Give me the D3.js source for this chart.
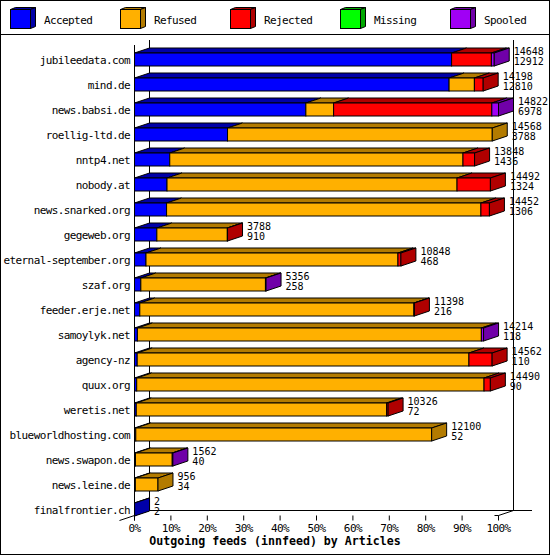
<!DOCTYPE html>
<html>
<head>
<meta charset="utf-8">
<script src="https://cdn.jsdelivr.net/npm/d3@7"></script>
<style>
  body { margin: 0; background: #fff; }
  text { font-family: "DejaVu Sans Mono", "Liberation Mono", monospace; font-size: 11px; letter-spacing: -0.6px; fill: #000; }
  .value { font-size: 10px; letter-spacing: 0; }
  .title { font-weight: bold; font-size: 11.6px; letter-spacing: 0; }
</style>
</head>
<body>
<div id="chart"></div>
<script>
// innfeed outgoing feeds, articles per peer
const hosts = ["jubileedata.com", "mind.de", "news.babsi.de", "roellig-ltd.de", "nntp4.net",
    "nobody.at", "news.snarked.org", "gegeweb.org", "eternal-september.org", "szaf.org",
    "feeder.erje.net", "samoylyk.net", "agency-nz", "quux.org", "weretis.net",
    "blueworldhosting.com", "news.swapon.de", "news.leine.de", "finalfrontier.ch"];
const offered = [14648, 14198, 14822, 14568, 13848, 14492, 14452, 3788, 10848, 5356,
    11398, 14214, 14562, 14490, 10326, 12100, 1562, 956, 2];
const accepted = [12912, 12810, 6978, 3788, 1436, 1324, 1306, 910, 468, 258,
    216, 118, 110, 90, 72, 52, 40, 34, 2];
const refused = [0, 1030, 1130, 10780, 11940, 11810, 12800, 2870, 10260, 5074,
    11162, 14006, 13508, 14143, 10195, 12048, 1497, 922, 0];
const rejected = [1620, 358, 6442, 0, 472, 1358, 346, 8, 120, 0,
    20, 0, 944, 257, 59, 0, 0, 0, 0];
const missing = [0, 0, 0, 0, 0, 0, 0, 0, 0, 0, 0, 0, 0, 0, 0, 0, 0, 0, 0];
const spooled = [116, 0, 272, 0, 0, 0, 0, 0, 0, 24, 0, 90, 0, 0, 0, 0, 25, 0, 0];

const seriesNames = ["Accepted", "Refused", "Rejected", "Missing", "Spooled"];
const seriesValues = [accepted, refused, rejected, missing, spooled];
const tickValues = [0, 10, 20, 30, 40, 50, 60, 70, 80, 90, 100];

const colors = ["#0000ff", "#ffb000", "#ff0000", "#00ff00", "#a000f5"];
const shades = ["#0000a8", "#b37b00", "#b00000", "#00a800", "#7000a8"];

const svgWidth = 550;
const svgHeight = 555;
const dx = 15, dy = -5;       // 3d depth
const barH = 13;

const svg = d3.select("#chart").append("svg")
    .attr("width", svgWidth)
    .attr("height", svgHeight);

svg.append("rect")
    .attr("x", 0.5).attr("y", 0.5)
    .attr("width", svgWidth - 1).attr("height", svgHeight - 1)
    .attr("fill", "#fff").attr("stroke", "#000");

// legend
svg.append("line")
    .attr("x1", 0).attr("x2", svgWidth)
    .attr("y1", 34.5).attr("y2", 34.5)
    .attr("stroke", "#000");

const legend = svg.selectAll(".legend").data(seriesNames)
    .enter().append("g")
    .attr("transform", (d, i) => `translate(${10 + i * 110}, 0)`);

const lx = 0.5, ly = 9.5, lw = 20, lh = 19, ldx = 5, ldy = -2;
legend.append("polygon")
    .attr("points", `${lx},${ly} ${lx + lw},${ly} ${lx + lw + ldx},${ly + ldy} ${lx + ldx},${ly + ldy}`)
    .attr("fill", (d, i) => shades[i]).attr("stroke", "#000");
legend.append("polygon")
    .attr("points", `${lx + lw},${ly} ${lx + lw + ldx},${ly + ldy} ${lx + lw + ldx},${ly + lh + ldy} ${lx + lw},${ly + lh}`)
    .attr("fill", (d, i) => shades[i]).attr("stroke", "#000");
legend.append("rect")
    .attr("x", lx).attr("y", ly).attr("width", lw).attr("height", lh)
    .attr("fill", (d, i) => colors[i]).attr("stroke", "#000");
legend.append("text")
    .attr("x", 34).attr("y", 23.5)
    .text(d => d);

// scales
const maxTotal = d3.max(offered);
const xScale = d3.scaleLinear()
    .domain([0, maxTotal])
    .range([134.5, 498.5]);
const pctScale = d3.scaleLinear()
    .domain([0, 100])
    .range(xScale.range());
const yScale = d3.scalePoint()
    .domain(hosts)
    .range([60, 510]);

const x0 = xScale(0);
const x1 = xScale(maxTotal);
const floorY = 515.5;

// frame lines (back wall, floor)
const frame = svg.append("g").attr("stroke", "#000").attr("fill", "none");
frame.append("line").attr("x1", x0 + dx).attr("x2", x0 + dx).attr("y1", 40).attr("y2", floorY + dy);
frame.append("line").attr("x1", x1 + dx).attr("x2", x1 + dx).attr("y1", 40).attr("y2", floorY + dy);
frame.append("line").attr("x1", x0 + dx).attr("x2", 532).attr("y1", floorY + dy).attr("y2", floorY + dy);
frame.append("line").attr("x1", x0 - dx).attr("x2", x0 + dx).attr("y1", floorY - dy).attr("y2", floorY + dy);
frame.append("polyline").attr("points", `${x1 - 4},${floorY} ${x1},${floorY} ${x1 + dx},${floorY + dy}`);
frame.append("line").attr("x1", x0).attr("x2", x0).attr("y1", 45).attr("y2", floorY + 5);

// x ticks
const ticks = svg.append("g");
ticks.selectAll("line").data(tickValues)
    .enter().append("line")
    .attr("x1", d => pctScale(d)).attr("x2", d => pctScale(d))
    .attr("y1", floorY).attr("y2", floorY + 5)
    .attr("stroke", "#000");
ticks.selectAll("text").data(tickValues)
    .enter().append("text")
    .attr("x", d => pctScale(d))
    .attr("y", 532)
    .attr("text-anchor", "middle")
    .text(d => d + "%");

svg.append("text")
    .attr("class", "title")
    .attr("x", svgWidth / 2)
    .attr("y", 545)
    .attr("text-anchor", "middle")
    .text("Outgoing feeds (innfeed) by Articles");

// bars
hosts.forEach((host, r) => {
    const top = yScale(host) - barH / 2 - 0.5;
    const g = svg.append("g");
    let cum = 0;
    let last = 0;
    const segs = seriesValues.map((vals, s) => {
        const a = cum;
        cum += vals[r];
        if (vals[r] > 0) last = s;
        return { s: s, a: a, b: cum, v: vals[r] };
    }).filter(d => d.v > 0);

    segs.forEach(d => {
        const xa = xScale(d.a), xb = xScale(d.b);
        g.append("polygon")
            .attr("points", `${xa},${top} ${xb},${top} ${xb + dx},${top + dy} ${xa + dx},${top + dy}`)
            .attr("fill", shades[d.s]).attr("stroke", "#000");
        g.append("rect")
            .attr("x", xa).attr("y", top)
            .attr("width", xb - xa).attr("height", barH)
            .attr("fill", colors[d.s]).attr("stroke", "#000");
    });

    const xe = xScale(cum);
    g.append("polygon")
        .attr("points", `${xe},${top} ${xe + dx},${top + dy} ${xe + dx},${top + barH + dy} ${xe},${top + barH}`)
        .attr("fill", shades[last]).attr("stroke", "#000");

    g.append("text")
        .attr("class", "value")
        .attr("x", xe + dx + 4.5)
        .attr("y", top + 1.5)
        .text(offered[r]);
    g.append("text")
        .attr("class", "value")
        .attr("x", xe + dx + 4.5)
        .attr("y", top + 12)
        .text(accepted[r]);

    g.append("text")
        .attr("x", 130)
        .attr("y", yScale(host) + 4)
        .attr("text-anchor", "end")
        .text(host);
});
</script>
</body>
</html>
